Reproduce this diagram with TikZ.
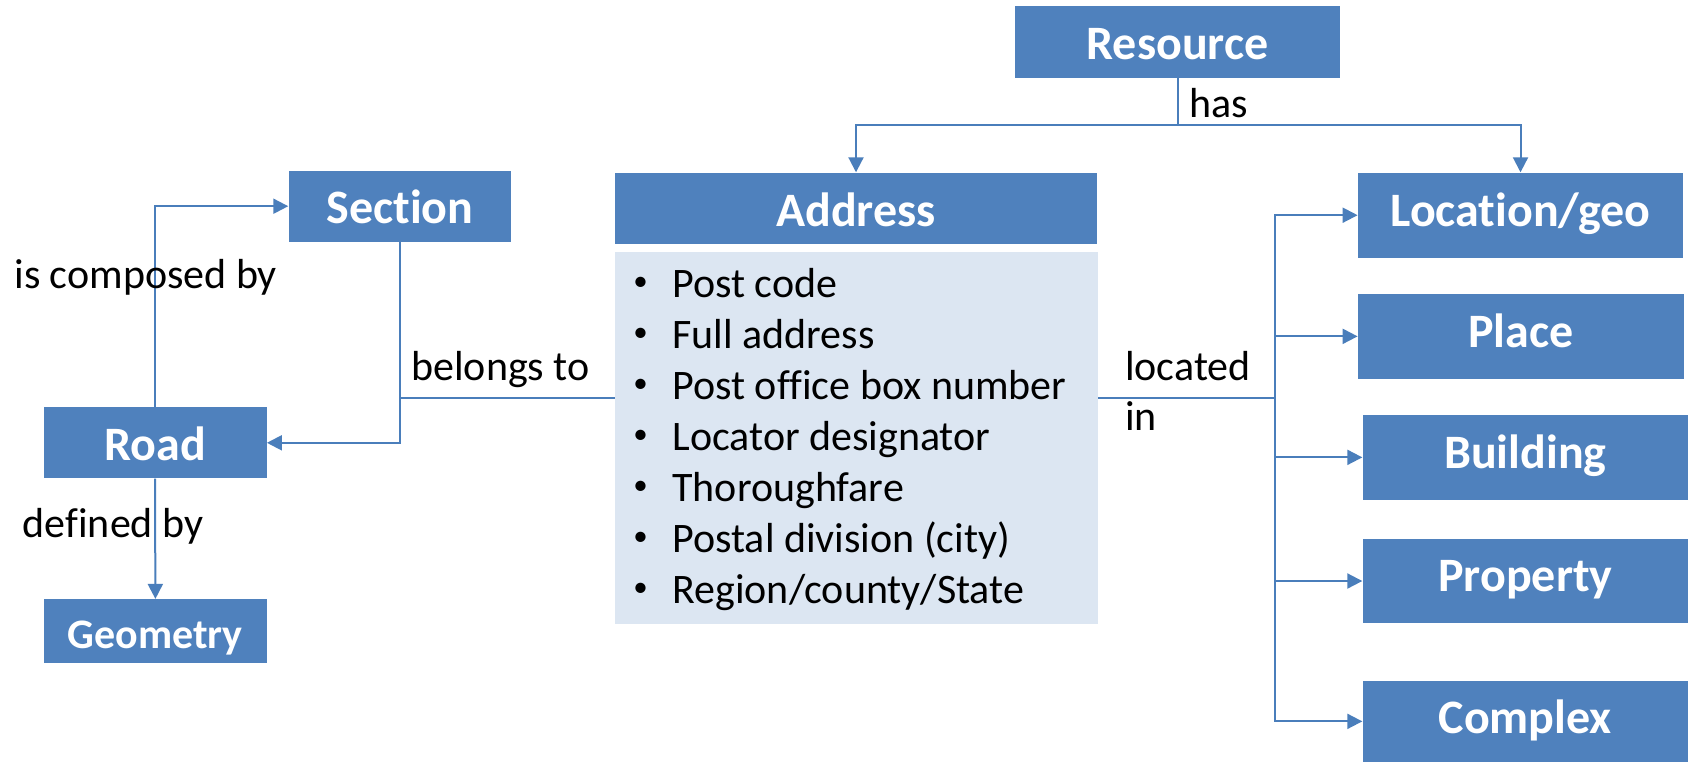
\documentclass[tikz,border=0pt]{standalone}
\usepackage{fontspec}
\setmainfont{Carlito}[Ligatures=NoCommon]
\usetikzlibrary{arrows.meta}
\definecolor{boxblue}{HTML}{4F81BD}
\definecolor{lightblue}{HTML}{DCE6F2}
\definecolor{lineblue}{HTML}{4A7EBB}
\begin{document}
\begin{tikzpicture}[x=0.5pt,y=-0.5pt,
  box/.style={fill=boxblue,text=white,inner sep=0pt,text depth=0pt,text height=17.7pt,font=\fontsize{24pt}{28pt}\selectfont\bfseries},
  rbox/.style={box,text height=10.8pt},
  lbl/.style={inner sep=0pt,anchor=base west,font=\fontsize{21pt}{25pt}\selectfont},
  bul/.style={inner sep=0pt,anchor=base,font=\fontsize{14.5pt}{17pt}\selectfont},
  conn/.style={draw=lineblue,line width=1pt},
  arr/.style={conn,-{Triangle[length=7.5pt,width=7.5pt]}}]
\useasboundingbox (0,0) rectangle (1689,762);
\fill[white] (0,0) rectangle (1689,762);
% boxes
\node[box,minimum width=162.5pt,minimum height=35.75pt] (res) at (1177.5,41.75) {Resource};
\node[box,minimum width=241pt,minimum height=35.8pt] (addr) at (856,208.5) {Address};
\node[fill=lightblue,inner sep=0pt,minimum width=241.35pt,minimum height=185.85pt] (addrbody) at (856.35,438.15) {};
\node[rbox,minimum width=162.5pt,minimum height=42.5pt] (loc) at (1520.5,215.2) {Location/geo};
\node[rbox,minimum width=162.75pt,minimum height=42.35pt] (place) at (1520.75,336.35) {Place};
\node[rbox,minimum width=162.65pt,minimum height=42.35pt] (bldg) at (1525.35,457.35) {Building};
\node[rbox,minimum width=162.65pt,minimum height=42.3pt] (prop) at (1525.35,581) {Property};
\node[rbox,text height=12pt,minimum width=162.65pt,minimum height=40.65pt] (cplx) at (1525.35,721.35) {Complex};
\node[box,minimum width=111.35pt,minimum height=35.5pt] (sect) at (400,206.2) {Section};
\node[box,minimum width=111.5pt,minimum height=35.5pt] (road) at (155,442.8) {Road};
\node[box,text height=17pt,minimum width=111.9pt,minimum height=32pt,font=\fontsize{21pt}{25pt}\selectfont\bfseries] (geom) at (155.4,631.3) {Geometry};
% address list
\foreach \t [count=\i from 0] in {Post code,Full address,Post office box number,Locator designator,Thoroughfare,Postal division (city),Region/county/State}{
  \node[bul] (b\i) at (640.5,290.8+51*\i) {•};
  \node[lbl] (item\i) at (672,297.3+51*\i) {\t};
}
% coordinates
\coordinate (hasj) at (1177.5,125);
\coordinate (bel) at (400,398.3);
\coordinate (trunk) at (1274.6,398.3);
% connectors
\draw[conn] (res.south) -- (hasj);
\draw[arr] (hasj) -| (addr.north);
\draw[arr] (hasj) -| (loc.north);
\draw[arr] (sect.south) |- (road.east);
\draw[conn] (addrbody.west |- bel) -- (bel);
\draw[arr] (road.north) |- (sect.west);
\draw[arr] (road.south) -- (geom.north);
\draw[conn] (addrbody.east |- trunk) -- (trunk);
\draw[arr] (trunk) |- (loc.west);
\draw[arr] (trunk) |- (place.west);
\draw[arr] (trunk) |- (bldg.west);
\draw[arr] (trunk) |- (prop.west);
\draw[arr] (trunk) |- (cplx.west);
% labels
\node[lbl] (lhas) at (1189,117.3) {has};
\node[lbl] (lcomp) at (14,288.3) {is composed by};
\node[lbl] (lbel) at (411,380) {belongs to};
\node[lbl] (ldef) at (22.5,537.5) {defined by};
\node[lbl] (lloc) at (1124.7,380) {located};
\node[lbl] (lin) at (1124.7,430) {in};
\end{tikzpicture}
\end{document}
